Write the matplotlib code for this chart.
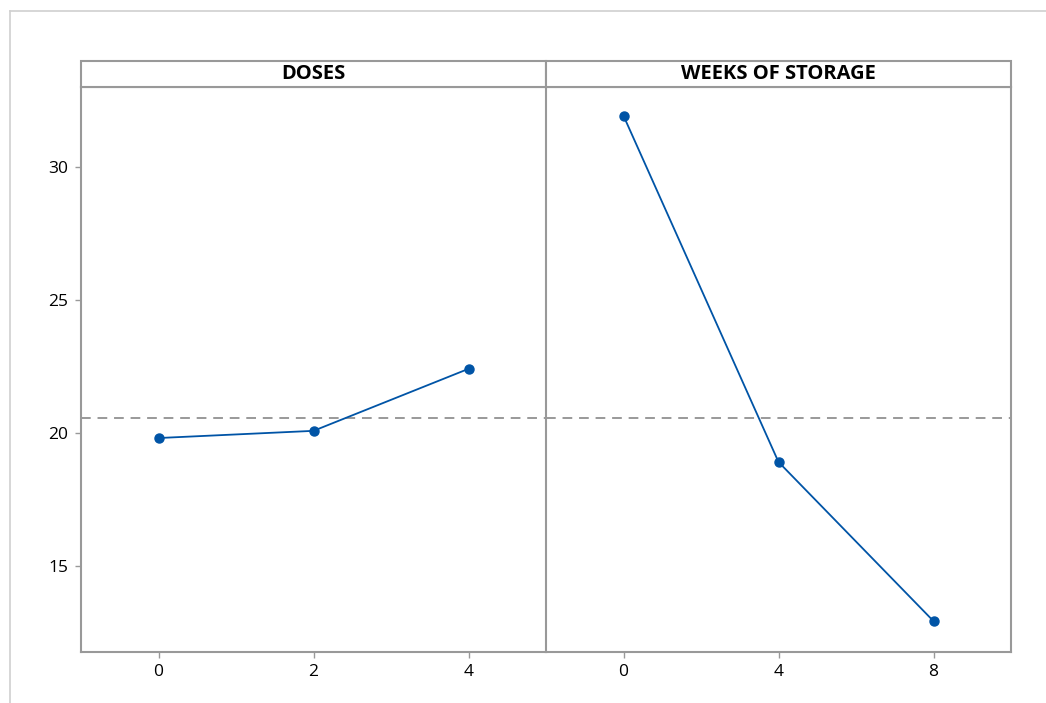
import matplotlib
matplotlib.use("Agg")
import matplotlib.pyplot as plt
from matplotlib.lines import Line2D
from matplotlib.patches import Rectangle

plt.rcParams['font.family'] = ['Open Sans', 'DejaVu Sans']

panel_titles = ["DOSES", "WEEKS OF STORAGE"]
doses_x = [0, 2, 4]
doses_means = [19.81, 20.08, 22.41]
weeks_x = [0, 4, 8]
weeks_means = [31.92, 18.91, 12.93]
grand_mean = 20.56
y_ticks = [15, 20, 25, 30]

W, H = 1046, 703
fig = plt.figure(figsize=(W / 100, H / 100), dpi=100)
fig.patch.set_facecolor('white')

# outer light frame
fig.add_artist(Line2D([10 / W, 1.0], [1 - 11 / H, 1 - 11 / H], color='#d0d0d0', lw=1.2))
fig.add_artist(Line2D([10 / W, 10 / W], [0, 1 - 11 / H], color='#d0d0d0', lw=1.2))

left, right, bottom, top = 81 / W, 1011 / W, 1 - 652 / H, 1 - 87 / H
mid = 546 / W
hdr_top = 1 - 61 / H

line_color = '#0054a6'
frame_color = '#999999'

specs = [
    (left, mid, doses_x, doses_means, (-1, 5)),
    (mid, right, weeks_x, weeks_means, (-2, 10)),
]
for i, (l, r, xs, ys, xl) in enumerate(specs):
    ax = fig.add_axes([l, bottom, r - l, top - bottom])
    ax.plot(xs, ys, color=line_color, lw=1.3, marker='o', ms=6.5, mec=line_color, mfc=line_color, zorder=3)
    ax.axhline(grand_mean, color='#999999', lw=1.4, ls=(0, (5, 3.5)), zorder=2)
    ax.set_xlim(*xl)
    ax.set_ylim(11.77, 33.0)
    ax.set_xticks(xs)
    ax.set_xticklabels([str(v) for v in xs], fontsize=12.5)
    for s in ax.spines.values():
        s.set_color(frame_color)
        s.set_linewidth(1.5)
    ax.tick_params(axis='both', color=frame_color, length=4, width=1, labelcolor='black', pad=5)
    if i == 0:
        ax.set_yticks(y_ticks)
        ax.set_yticklabels([str(v) for v in y_ticks], fontsize=12.5)
        ax.spines['right'].set_visible(False)
    else:
        ax.set_yticks([])
    # header strip
    fig.add_artist(Rectangle((l, top), r - l, hdr_top - top, transform=fig.transFigure,
                             facecolor='white', edgecolor=frame_color, lw=1.5))
    fig.text((l + r) / 2, (top + hdr_top) / 2, panel_titles[i], ha='center', va='center',
             fontsize=14.5, fontweight='bold', color='black')

fig.savefig('out.png', dpi=100, facecolor='white')
